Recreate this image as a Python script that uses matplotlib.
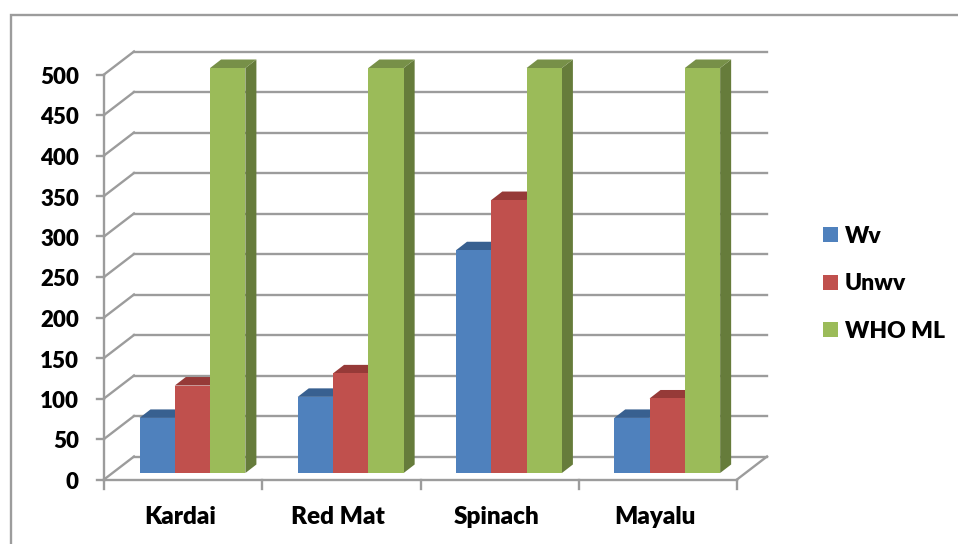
import matplotlib
matplotlib.use('Agg')
import matplotlib.pyplot as plt
from matplotlib.patches import Polygon, Rectangle

plt.rcParams['font.family'] = ['Lato', 'DejaVu Sans']
plt.rcParams['font.weight'] = 'heavy'

categories = ['Kardai', 'Red Mat', 'Spinach', 'Mayalu']
wv = [68, 94, 275, 68]
unwv = [108, 123, 337, 92]
who_ml = [500, 500, 500, 500]
y_ticks = [0, 50, 100, 150, 200, 250, 300, 350, 400, 450, 500]

series_names = ['Wv', 'Unwv', 'WHO ML']
front_colors = ['#4f81bd', '#c0504d', '#9bbb59']
top_colors = ['#386090', '#963a38', '#779048']
side_colors = ['#2f5079', '#7f3130', '#667c3b']
GRAY = '#9c9c9c'

W, H = 958, 544
fig = plt.figure(figsize=(W / 100, H / 100), dpi=100)
ax = fig.add_axes([104 / W, 1 - 479.5 / H, 633 / W, 405 / H])
ax.set_xlim(0, 4)
ax.set_ylim(0, 500)
ax.axis('off')

# pixel sizes converted to data units for the fake 3d depth
px_x = 4 / 633
px_y = 500 / 405
wall_dx = 30 * px_x
wall_dy = 23 * px_y
floor_dy = 6.5 * px_y
depth_dx = 11 * px_x
depth_dy = 8.5 * px_y
bar_w = 35.3 * px_x
bar_start = 35.5 * px_x


def wall_line(xs, ys):
    ax.plot(xs, ys, color=GRAY, lw=1.7, clip_on=False, solid_capstyle='projecting', zorder=1)


# side wall and back wall gridlines
for t in y_ticks:
    wall_line([0, wall_dx], [t, t + wall_dy])
    wall_line([wall_dx, 4 + wall_dx], [t + wall_dy, t + wall_dy])
    wall_line([-7 * px_x, 0], [t, t])

# floor and axes
wall_line([0, 0], [0, 500])
wall_line([0, 4], [0, 0])
wall_line([4, 4 + wall_dx], [0, wall_dy])
for i in range(5):
    wall_line([i, i], [0, -9 * px_y])

# bars, back to front within each group
for s, values in enumerate([wv, unwv, who_ml]):
    for i, v in enumerate(values):
        x0 = i + bar_start + s * bar_w
        x1 = x0 + bar_w
        y0 = floor_dy
        y1 = floor_dy + v
        ax.add_patch(Polygon([(x1, y0), (x1 + depth_dx, y0 + depth_dy), (x1 + depth_dx, y1 + depth_dy), (x1, y1)],
                             fc=side_colors[s], ec='none', clip_on=False, zorder=2 + s))
        ax.add_patch(Polygon([(x0, y1), (x0 + depth_dx, y1 + depth_dy), (x1 + depth_dx, y1 + depth_dy), (x1, y1)],
                             fc=top_colors[s], ec='none', clip_on=False, zorder=2 + s))
        ax.add_patch(Rectangle((x0, y0), bar_w, v, fc=front_colors[s], ec='none', clip_on=False, zorder=2.5 + s))

# labels
for t in y_ticks:
    ax.text(-25 * px_x, t - 3 * px_y, str(t), ha='right', va='center', fontsize=16, color='black', clip_on=False)
for i, name in enumerate(categories):
    ax.text(i + 0.48, -37.5 * px_y, name, ha='center', va='center', fontsize=17.5, color='black', clip_on=False)

handles = [Rectangle((0, 0), 1, 1, fc=c, ec='none') for c in front_colors]
fig.legend(handles, series_names, loc='upper left', bbox_to_anchor=(816 / W, 1 - 219 / H), frameon=False,
           fontsize=16.5, handlelength=0.65, handleheight=0.65, handletextpad=0.3, labelspacing=1.15,
           borderpad=0.3, borderaxespad=0)

# chart frame
fig.add_artist(Rectangle((11 / W, -0.02), 960 / W, 1.02 - 15 / H, transform=fig.transFigure,
                         fc='none', ec=GRAY, lw=1.7))

fig.savefig('out.png', dpi=100)
